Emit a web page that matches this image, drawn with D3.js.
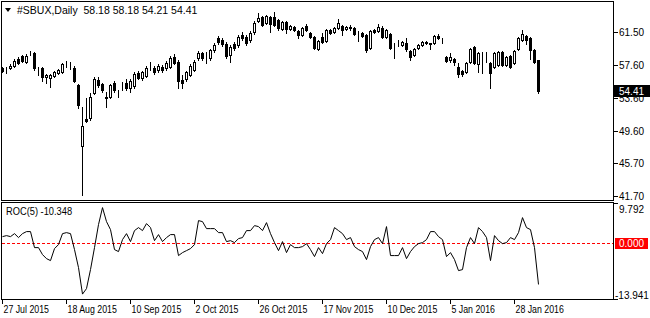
<!DOCTYPE html>
<html lang="en">
<head>
<meta charset="utf-8">
<title>#SBUX Daily with ROC(5)</title>
<script src="https://d3js.org/d3.v7.min.js"></script>
<style>
  body { margin: 0; background: #fff; }
  text { font-family: "Liberation Sans", Arial, sans-serif; font-size: 10px; fill: #000; }
</style>
</head>
<body>
<script>
// daily bars, 27 Jul 2015 .. 5 Feb 2016
var opens = [57.21,57.15,57.21,57.45,58.30,58.66,57.94,59.02,59.02,57.21,57.21,56.12,56.00,56.24,56.61,56.73,57.76,57.75,57.21,55.16,
  47.79,51.05,51.17,54.19,55.76,55.28,53.71,53.71,55.40,54.25,55.22,55.40,54.80,55.04,56.61,56.00,56.24,57.15,57.21,56.97,
  57.33,57.21,57.33,58.54,57.94,55.76,55.88,56.37,56.97,58.42,59.02,58.72,58.42,59.39,60.84,60.59,60.11,58.78,60.11,59.99,
  61.20,60.96,60.59,61.56,62.89,63.37,62.65,63.37,63.37,63.01,61.92,62.77,61.92,62.16,61.68,61.20,62.29,61.44,60.96,59.51,
  60.96,60.47,61.80,61.56,62.04,62.29,61.92,62.10,62.04,61.26,61.44,61.20,59.63,61.80,61.68,62.04,60.96,61.32,59.93,60.05,
  59.99,60.23,59.27,58.78,59.63,59.99,60.35,60.17,60.23,61.08,60.77,58.54,58.18,58.30,57.33,56.85,56.73,57.94,59.75,57.69,
  58.12,58.48,57.82,57.33,57.57,59.14,57.57,58.66,57.82,59.51,60.59,61.08,60.84,59.39,58.18];
var highs = [57.33,57.33,57.69,58.30,58.54,58.78,58.90,59.27,59.14,57.27,57.33,56.49,56.49,56.85,57.09,57.82,58.06,57.94,57.45,55.28,
  52.50,53.59,54.19,56.12,56.12,55.40,54.31,55.28,55.64,54.55,55.52,55.88,55.88,56.73,56.85,56.85,57.45,57.94,57.45,57.69,
  57.57,58.06,58.66,58.90,58.18,56.37,56.85,57.69,58.18,59.27,59.14,59.14,59.51,60.23,61.08,60.84,60.35,59.99,60.35,61.20,
  61.56,61.20,61.68,62.89,63.86,63.49,63.61,63.49,63.98,63.13,62.89,62.89,62.41,62.29,61.80,62.16,62.53,61.56,61.08,60.59,
  61.44,61.92,61.92,62.16,63.13,62.41,62.29,62.41,62.16,61.68,61.56,61.32,61.80,61.92,62.53,62.29,61.92,61.44,60.23,60.59,
  60.47,60.84,59.39,59.63,60.11,60.47,60.47,60.23,61.20,61.32,60.84,58.66,59.02,58.42,57.82,56.97,57.94,59.63,59.87,59.14,
  59.14,59.14,57.94,59.14,59.27,59.27,58.66,58.78,59.39,60.96,61.80,61.20,60.96,59.51,58.18];
var lows = [56.73,56.61,57.09,57.33,57.69,57.94,57.82,58.78,56.97,56.37,55.64,55.40,54.92,56.12,56.49,56.61,57.33,57.09,55.52,52.38,
  41.87,50.70,50.93,54.07,54.92,54.31,52.50,53.59,54.31,53.71,54.55,54.55,54.31,54.80,55.88,55.76,56.12,56.97,56.49,56.73,
  56.73,56.97,57.21,57.69,54.80,54.80,55.64,56.24,56.85,58.18,58.18,57.82,58.18,59.14,60.11,59.87,58.42,57.94,59.39,59.75,
  60.59,59.99,60.35,61.32,62.77,62.29,62.53,61.56,62.29,61.80,61.80,61.44,61.80,61.68,60.84,61.08,61.68,60.84,59.51,59.39,
  60.23,60.35,61.32,61.44,61.92,61.20,61.80,61.80,61.20,60.47,60.96,59.14,59.51,61.44,61.56,60.84,60.84,59.51,58.42,59.87,
  59.87,59.27,58.18,58.66,59.51,59.87,60.11,59.51,60.11,60.71,60.23,57.94,57.94,57.57,56.12,56.24,56.61,57.82,57.69,56.73,
  56.61,57.94,54.80,57.21,57.45,57.45,57.45,57.21,57.69,59.39,60.47,60.11,58.30,57.82,54.21];
var closes = [56.85,57.21,57.45,58.06,57.82,58.06,58.66,59.08,57.21,57.15,56.12,56.37,56.37,56.73,56.97,57.69,57.82,57.69,55.64,52.74,
  50.20,50.81,53.71,55.88,55.16,54.55,53.59,55.16,54.55,54.19,55.28,54.80,55.64,56.49,56.00,56.73,57.21,57.21,56.73,57.45,
  56.97,57.82,58.42,57.82,55.64,55.40,56.73,57.45,57.94,59.02,58.42,58.78,59.39,59.99,60.35,60.11,58.66,59.75,59.63,60.96,
  60.84,60.23,61.44,62.65,63.25,62.41,63.49,62.53,62.41,62.04,62.77,61.92,62.29,61.80,61.20,62.04,61.80,60.96,59.63,60.47,
  60.35,61.80,61.44,62.04,62.65,61.80,62.16,62.16,61.32,61.32,61.08,59.39,61.68,61.56,62.16,60.96,61.80,59.63,59.99,60.11,
  60.35,59.51,58.54,59.51,59.99,60.35,60.23,60.11,61.08,60.84,60.71,58.06,58.54,57.94,56.49,56.49,57.82,59.51,57.82,59.02,
  58.18,58.54,56.61,59.02,59.14,57.57,58.54,57.33,59.27,60.84,61.32,60.59,59.39,57.94,54.41];

// ROC(5) per bar
var rocValues = [1.48,1.73,1.48,2.22,1.24,2.22,2.72,2.72,-1.24,-1.24,-2.97,-3.96,-4.45,-1.48,-0.49,2.22,2.47,2.22,-1.73,-6.18,
  -12.73,-11.37,-6.67,-1.24,4.45,8.65,5.19,3.21,-1.73,-2.22,0.74,2.22,0.25,2.97,3.71,2.97,4.70,3.71,0.49,1.98,
  0.25,1.24,1.98,1.98,-3.21,-2.47,-1.98,-1.48,-0.49,5.44,5.19,3.46,3.46,3.46,2.47,2.47,0.25,0.49,0.00,0.99,
  1.24,2.97,2.97,4.20,3.96,2.97,4.94,2.22,0.00,-1.98,0.25,-2.47,-0.49,-1.24,-1.24,-0.99,-0.25,-1.73,-3.46,-1.24,
  -2.72,-0.25,0.74,3.71,2.97,2.22,0.74,1.24,-0.99,-1.73,-2.22,-4.20,-0.99,0.74,1.24,-0.25,3.96,-3.21,-3.21,-3.21,
  -1.24,-3.96,-2.22,-0.99,-0.25,0.00,0.74,2.72,2.72,1.48,0.74,-3.46,-2.47,-4.20,-6.92,-6.67,-1.24,1.24,-0.25,3.71,
  2.72,1.24,-4.45,1.73,0.49,-0.25,0.00,1.24,0.74,2.47,6.18,3.71,3.21,-1.24,-10.348];

var dateLabels = ["27 Jul 2015", "18 Aug 2015", "10 Sep 2015", "2 Oct 2015", "26 Oct 2015",
  "17 Nov 2015", "10 Dec 2015", "5 Jan 2016", "28 Jan 2016"];
var barsPerLabel = 16;
var priceTicks = [61.50, 57.60, 53.60, 49.60, 45.70, 41.70];
var rocMax = 9.792, rocMin = -13.941;
var symbol = "#SBUX,Daily";

var W = 650, H = 318;
var left = 1, right = 613;
var mainTop = 1, mainBottom = 200;
var indTop = 202, indBottom = 299;

var svg = d3.select("body").append("svg")
  .attr("width", W).attr("height", H)
  .attr("shape-rendering", "crispEdges");

var n = closes.length;
var x = d3.scaleLinear().domain([0, n - 1]).range([2, 2 + 4 * (n - 1)]);
var y = d3.scaleLinear().domain([41.27, 65.30]).range([mainBottom, mainTop]);
var yr = d3.scaleLinear().domain([rocMin, rocMax]).range([indBottom, indTop + 1]);

// frames
svg.append("rect").attr("x", left + 0.5).attr("y", mainTop + 0.5)
  .attr("width", right - left).attr("height", mainBottom - mainTop)
  .attr("fill", "none").attr("stroke", "#000");
svg.append("rect").attr("x", left + 0.5).attr("y", indTop + 0.5)
  .attr("width", right - left).attr("height", indBottom - indTop)
  .attr("fill", "none").attr("stroke", "#000");

// candles
var bars = svg.append("g").selectAll("g")
  .data(d3.range(n)).enter().append("g");

bars.append("line")
  .attr("x1", function(i) { return Math.round(x(i)) + 0.5; })
  .attr("x2", function(i) { return Math.round(x(i)) + 0.5; })
  .attr("y1", function(i) { return Math.round(y(highs[i])); })
  .attr("y2", function(i) { return Math.round(y(lows[i])) + 1; })
  .attr("stroke", "#000");

bars.append("rect")
  .attr("x", function(i) { return Math.round(x(i)) - 0.5; })
  .attr("y", function(i) { return Math.round(y(Math.max(opens[i], closes[i]))) + 0.5; })
  .attr("width", 2)
  .attr("height", function(i) {
    return Math.max(0, Math.round(y(Math.min(opens[i], closes[i]))) - Math.round(y(Math.max(opens[i], closes[i]))));
  })
  .attr("fill", function(i) { return closes[i] >= opens[i] ? "#fff" : "#000"; })
  .attr("stroke", "#000");

// price axis
var py = svg.append("g");
priceTicks.forEach(function(v) {
  var ty = Math.round(y(v)) + 0.5;
  py.append("line").attr("x1", right + 1).attr("x2", right + 5)
    .attr("y1", ty).attr("y2", ty).attr("stroke", "#000");
  py.append("text").attr("x", 619).attr("y", ty + 3.5).text(v.toFixed(2));
});

// last price box (sits over the 53.60 label, as in MT4)
var lastY = Math.round(y(closes[n - 1]));
svg.append("rect").attr("x", 614).attr("y", lastY - 6).attr("width", 36).attr("height", 12).attr("fill", "#000");
svg.append("text").attr("x", 619).attr("y", lastY + 3.5).style("fill", "#fff").text(closes[n - 1].toFixed(2));

// title
svg.append("path").attr("d", "M5,8 L11,8 L8,12 Z").attr("fill", "#000").attr("shape-rendering", "auto");
svg.append("text").attr("x", 17).attr("y", 14).style("font-size", "10.5px").style("white-space", "pre")
  .text(symbol + "  " + [opens[n - 1], highs[n - 1], lows[n - 1], closes[n - 1]].map(function(v) { return v.toFixed(2); }).join(" "));

// ROC zero line
svg.append("line").attr("x1", left + 1).attr("x2", right)
  .attr("y1", Math.round(yr(0)) + 0.5).attr("y2", Math.round(yr(0)) + 0.5)
  .attr("stroke", "#ff0000").attr("stroke-dasharray", "3,2");

// ROC line
svg.append("path")
  .datum(rocValues)
  .attr("fill", "none").attr("stroke", "#000").attr("shape-rendering", "auto")
  .attr("d", d3.line().x(function(d, i) { return x(i) + 0.5; }).y(function(d) { return yr(d); }));

svg.append("text").attr("transform", "translate(6,215) scale(0.93,1)")
  .text("ROC(5) " + rocValues[n - 1].toFixed(3));

// ROC axis
[rocMax, rocMin].forEach(function(v, k) {
  var ty = Math.round(yr(v)) + 0.5;
  svg.append("line").attr("x1", right + 1).attr("x2", right + 5)
    .attr("y1", ty).attr("y2", ty).attr("stroke", "#000");
  svg.append("text").attr("x", k ? 615 : 619).attr("y", k ? ty - 1 : ty + 9).text(v.toFixed(3));
});
var zy = Math.round(yr(0));
svg.append("rect").attr("x", 615).attr("y", zy - 5).attr("width", 33).attr("height", 11).attr("fill", "#ff0000");
svg.append("text").attr("x", 619).attr("y", zy + 4).style("fill", "#fff").text((0).toFixed(3));

// date axis
dateLabels.forEach(function(lbl, k) {
  var tx = Math.round(x(k * barsPerLabel)) + 0.5;
  svg.append("line").attr("x1", tx).attr("x2", tx)
    .attr("y1", indBottom + 1).attr("y2", indBottom + 5).attr("stroke", "#000");
  svg.append("text").attr("transform", "translate(" + (tx + 1) + ",313) scale(0.88,1)").text(lbl);
});
</script>
</body>
</html>
